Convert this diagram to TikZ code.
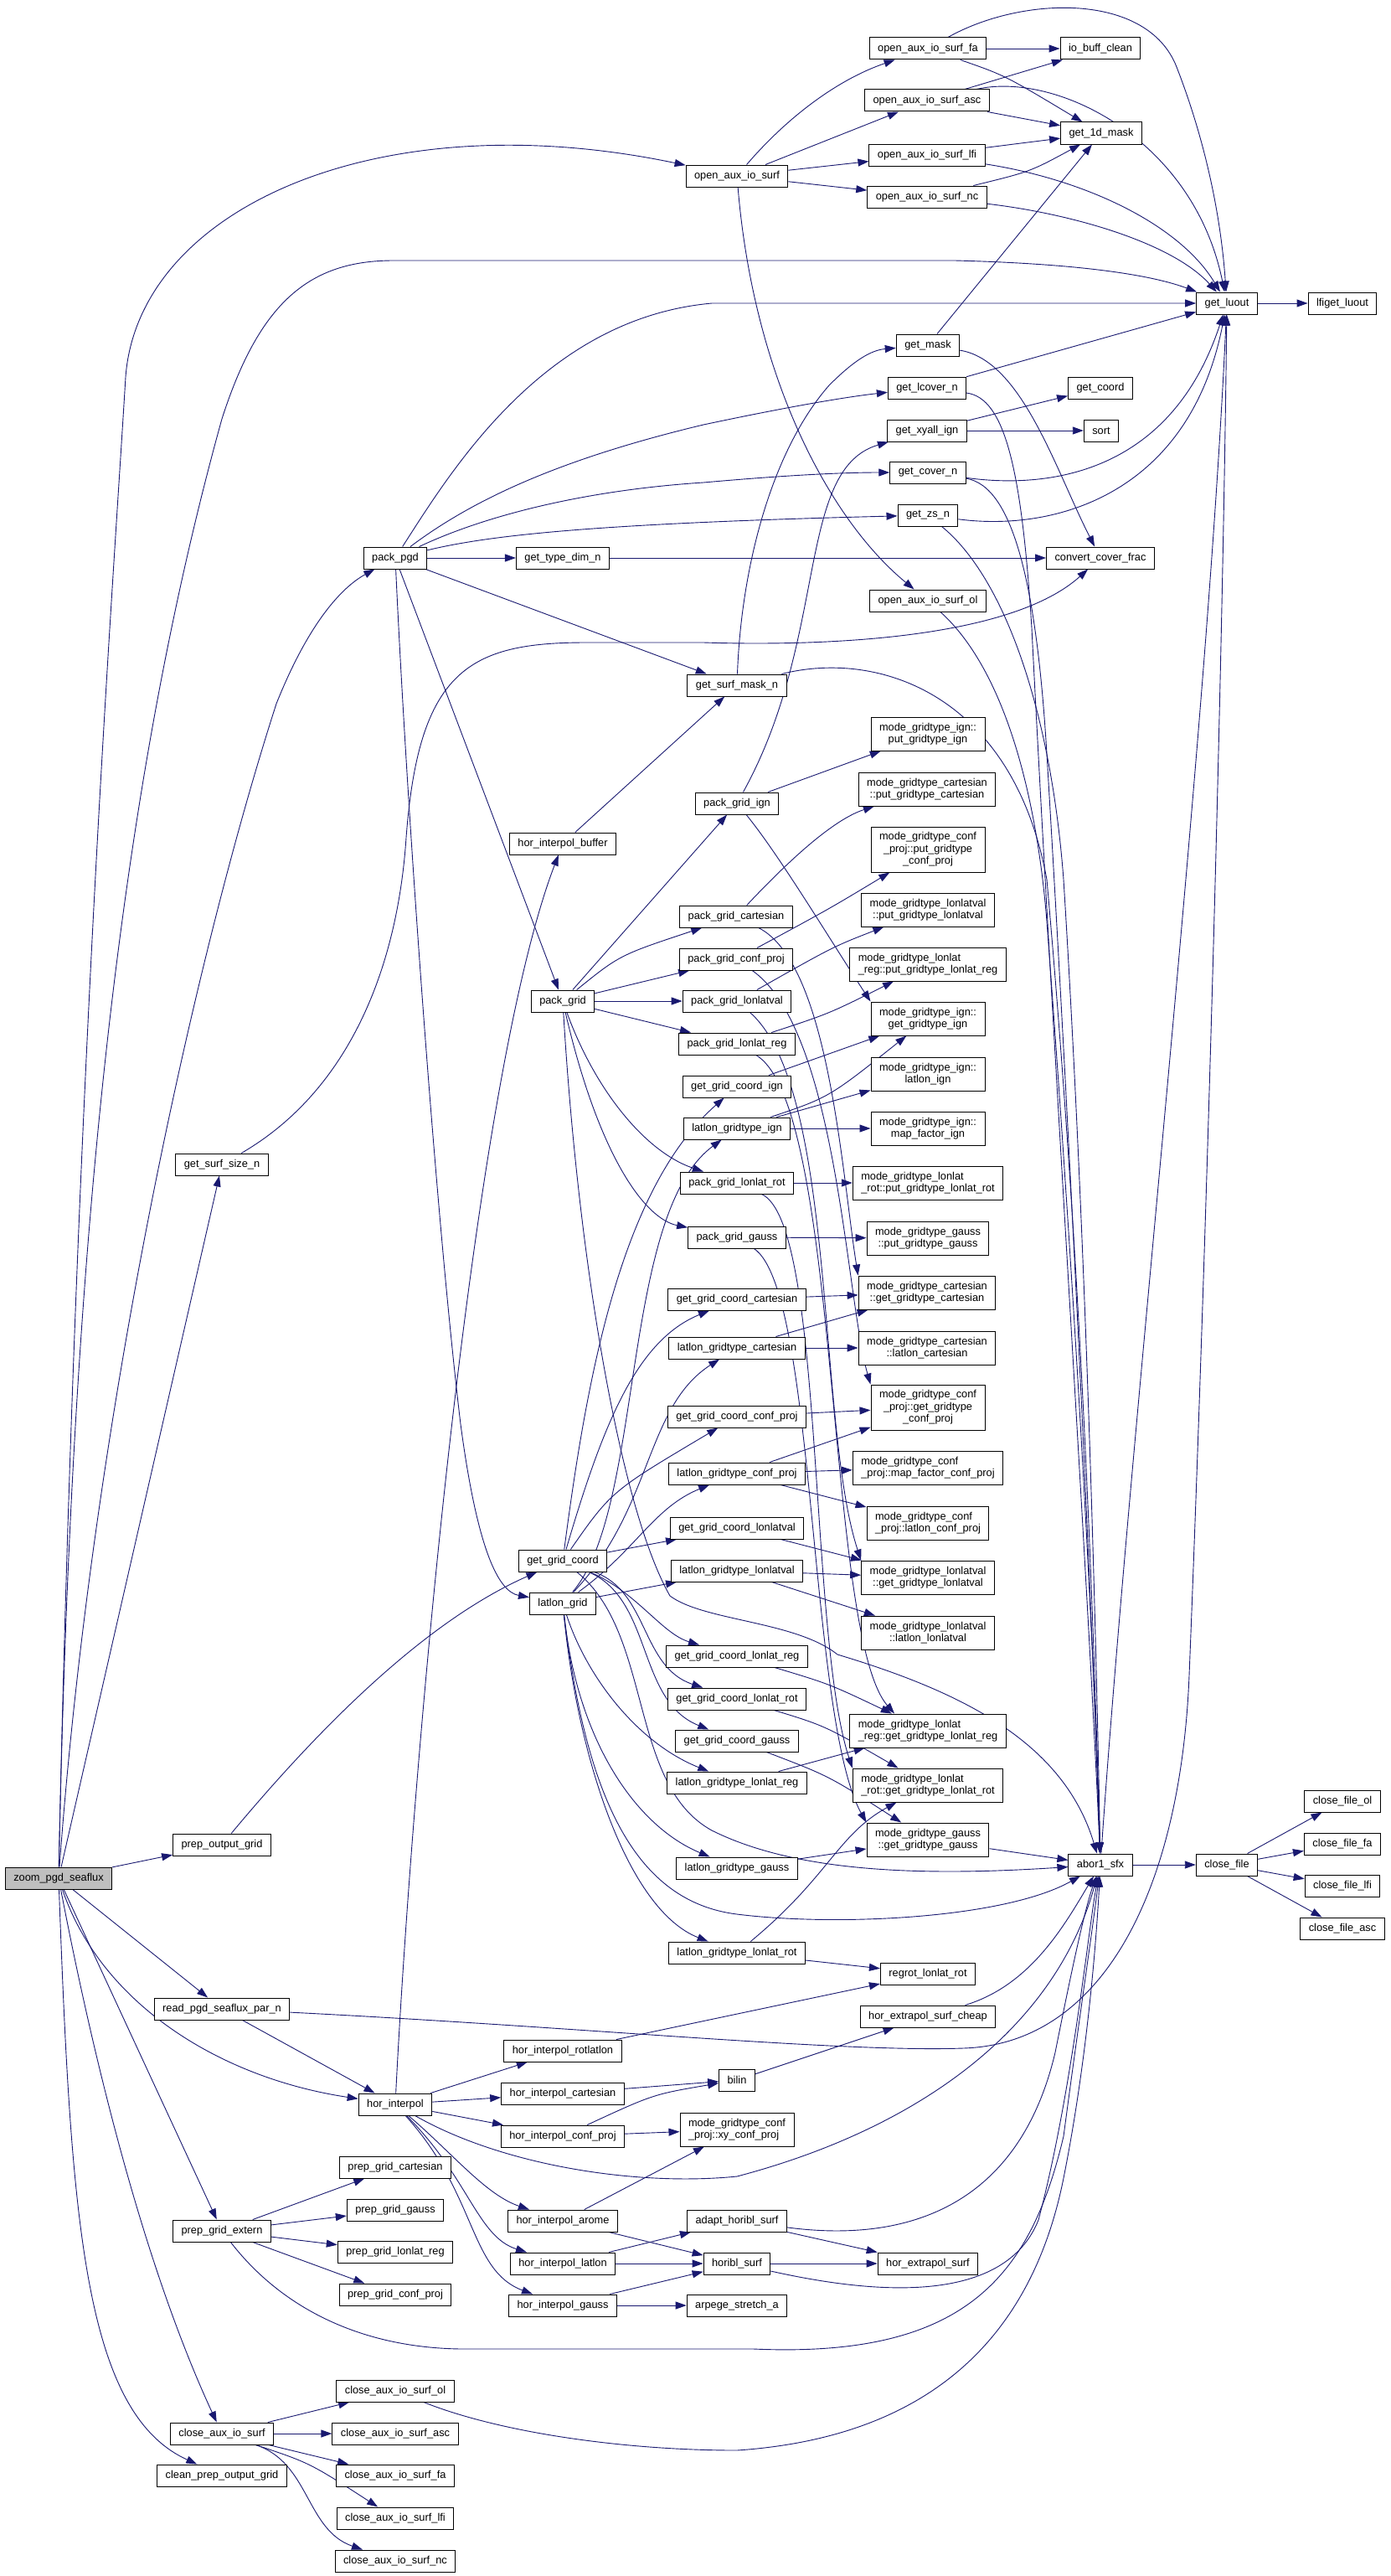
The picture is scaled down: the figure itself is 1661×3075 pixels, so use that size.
\documentclass[tikz,border=0pt]{standalone}
\usepackage{fontspec}
\setmainfont{Liberation Sans}
\usetikzlibrary{arrows.meta}
\definecolor{edgeblue}{HTML}{191970}
\definecolor{rootgray}{HTML}{BFBFBF}
\pgfdeclarelayer{bg}
\pgfsetlayers{bg,main}

\begin{document}
\begin{tikzpicture}[x=1pt,y=-1pt,
  fn/.style={draw=black,fill=white,line width=1pt,minimum height=26pt,inner xsep=10pt,inner ysep=2pt,font=\fontsize{12.8}{14.5}\selectfont},
  fnii/.style={fn,minimum height=40pt,align=center},
  fniil/.style={fn,minimum height=40pt,align=left},
  fniii/.style={fn,minimum height=54pt,align=center},
  root/.style={fn,fill=rootgray},
  call/.style={draw=edgeblue,line width=0.9pt,-{Triangle[length=13pt,width=9pt]}}]

\useasboundingbox (0,0) rectangle (1661,3075);

% root
\node[root] (zoom) at (70,2242) {zoom\_pgd\_seaflux};

% column 2
\node[fn] (gssize) at (265,1390) {get\_surf\_size\_n};
\node[fn] (pog) at (265,2202) {prep\_output\_grid};
\node[fn] (rpgd) at (265,2398) {read\_pgd\_seaflux\_par\_n};
\node[fn] (pge) at (265,2663) {prep\_grid\_extern};
\node[fn] (cais) at (265,2905) {close\_aux\_io\_surf};
\node[fn] (cpog) at (265,2955) {clean\_prep\_output\_grid};

% column 3
\node[fn] (ppgd) at (472,666) {pack\_pgd};
\node[fn] (hi) at (472,2512) {hor\_interpol};
\node[fn] (pgcart2) at (472,2587) {prep\_grid\_cartesian};
\node[fn] (pggauss2) at (472,2638) {prep\_grid\_gauss};
\node[fn] (pgreg2) at (472,2688) {prep\_grid\_lonlat\_reg};
\node[fn] (pgconf2) at (472,2739) {prep\_grid\_conf\_proj};
\node[fn] (caisol) at (472,2854) {close\_aux\_io\_surf\_ol};
\node[fn] (caisasc) at (472,2905) {close\_aux\_io\_surf\_asc};
\node[fn] (caisfa) at (472,2955) {close\_aux\_io\_surf\_fa};
\node[fn] (caislfi) at (472,3006) {close\_aux\_io\_surf\_lfi};
\node[fn] (caisnc) at (472,3057) {close\_aux\_io\_surf\_nc};

% column 4
\node[fn] (gtype) at (672,666) {get\_type\_dim\_n};
\node[fn] (hibuf) at (672,1007) {hor\_interpol\_buffer};
\node[fn] (pgrid) at (672,1195) {pack\_grid};
\node[fn] (ggc) at (672,1863) {get\_grid\_coord};
\node[fn] (llgrid) at (672,1914) {latlon\_grid};
\node[fn] (hirot) at (672,2448) {hor\_interpol\_rotlatlon};
\node[fn] (hicart) at (672,2499) {hor\_interpol\_cartesian};
\node[fn] (hiconf) at (672,2550) {hor\_interpol\_conf\_proj};
\node[fn] (hiarome) at (672,2651) {hor\_interpol\_arome};
\node[fn] (hilatlon) at (672,2702) {hor\_interpol\_latlon};
\node[fn] (higauss) at (672,2752) {hor\_interpol\_gauss};

% column 5
\node[fn] (oais) at (880,210) {open\_aux\_io\_surf};
\node[fn] (gsmask) at (880,818) {get\_surf\_mask\_n};
\node[fn] (pgign) at (880,959) {pack\_grid\_ign};
\node[fn] (pgcart) at (879,1094) {pack\_grid\_cartesian};
\node[fn] (pgconf) at (879,1145) {pack\_grid\_conf\_proj};
\node[fn] (pgllv) at (880,1195) {pack\_grid\_lonlatval};
\node[fn] (pgreg) at (880,1246) {pack\_grid\_lonlat\_reg};
\node[fn] (ggign) at (880,1297) {get\_grid\_coord\_ign};
\node[fn] (llign) at (880,1347) {latlon\_gridtype\_ign};
\node[fn] (pgrot) at (880,1412) {pack\_grid\_lonlat\_rot};
\node[fn] (pggauss) at (880,1477) {pack\_grid\_gauss};
\node[fn] (ggcart) at (880,1551) {get\_grid\_coord\_cartesian};
\node[fn] (llcart) at (880,1609) {latlon\_gridtype\_cartesian};
\node[fn] (ggconf) at (880,1691) {get\_grid\_coord\_conf\_proj};
\node[fn] (llconf) at (880,1759) {latlon\_gridtype\_conf\_proj};
\node[fn] (ggllv) at (880,1824) {get\_grid\_coord\_lonlatval};
\node[fn] (llllv) at (880,1875) {latlon\_gridtype\_lonlatval};
\node[fn] (ggreg) at (880,1977) {get\_grid\_coord\_lonlat\_reg};
\node[fn] (ggrot) at (880,2028) {get\_grid\_coord\_lonlat\_rot};
\node[fn] (gggauss) at (880,2078) {get\_grid\_coord\_gauss};
\node[fn] (llreg) at (880,2128) {latlon\_gridtype\_lonlat\_reg};
\node[fn] (llgauss) at (880,2230) {latlon\_gridtype\_gauss};
\node[fn] (llrot) at (880,2331) {latlon\_gridtype\_lonlat\_rot};
\node[fn] (bilin) at (880,2483) {bilin};
\node[fniil] (mconfxy) at (880,2542) {mode\_gridtype\_conf\\\_proj::xy\_conf\_proj};
\node[fn] (ahs) at (880,2651) {adapt\_horibl\_surf};
\node[fn] (horibl) at (880,2702) {horibl\_surf};
\node[fn] (arpege) at (880,2752) {arpege\_stretch\_a};

% column 6
\node[fn] (oaisfa) at (1108,58) {open\_aux\_io\_surf\_fa};
\node[fn] (oaisasc) at (1107,120) {open\_aux\_io\_surf\_asc};
\node[fn] (oaislfi) at (1107,185) {open\_aux\_io\_surf\_lfi};
\node[fn] (oaisnc) at (1107,235) {open\_aux\_io\_surf\_nc};
\node[fn] (gmask) at (1108,412) {get\_mask};
\node[fn] (glcover) at (1107,463) {get\_lcover\_n};
\node[fn] (gxyall) at (1107,514) {get\_xyall\_ign};
\node[fn] (gcover) at (1108,564) {get\_cover\_n};
\node[fn] (gzs) at (1108,615) {get\_zs\_n};
\node[fn] (oaisol) at (1108,717) {open\_aux\_io\_surf\_ol};
\node[fnii] (mignput) at (1108,876) {mode\_gridtype\_ign::\\put\_gridtype\_ign};
\node[fnii] (mcartput) at (1107,942) {mode\_gridtype\_cartesian\\::put\_gridtype\_cartesian};
\node[fniii] (mconfput) at (1108,1014) {mode\_gridtype\_conf\\\_proj::put\_gridtype\\\_conf\_proj};
\node[fnii] (mllvput) at (1108,1086) {mode\_gridtype\_lonlatval\\::put\_gridtype\_lonlatval};
\node[fniil] (mregput) at (1108,1151) {mode\_gridtype\_lonlat\\\_reg::put\_gridtype\_lonlat\_reg};
\node[fnii] (mignget) at (1108,1216) {mode\_gridtype\_ign::\\get\_gridtype\_ign};
\node[fnii] (mignlatlon) at (1108,1282) {mode\_gridtype\_ign::\\latlon\_ign};
\node[fnii] (mignmap) at (1108,1347) {mode\_gridtype\_ign::\\map\_factor\_ign};
\node[fniil] (mrotput) at (1108,1412) {mode\_gridtype\_lonlat\\\_rot::put\_gridtype\_lonlat\_rot};
\node[fnii] (mgaussput) at (1108,1478) {mode\_gridtype\_gauss\\::put\_gridtype\_gauss};
\node[fnii] (mcartget) at (1107,1543) {mode\_gridtype\_cartesian\\::get\_gridtype\_cartesian};
\node[fnii] (mcartlatlon) at (1107,1609) {mode\_gridtype\_cartesian\\::latlon\_cartesian};
\node[fniii] (mconfget) at (1108,1680) {mode\_gridtype\_conf\\\_proj::get\_gridtype\\\_conf\_proj};
\node[fniil] (mconfmap) at (1108,1752) {mode\_gridtype\_conf\\\_proj::map\_factor\_conf\_proj};
\node[fniil] (mconflatlon) at (1108,1818) {mode\_gridtype\_conf\\\_proj::latlon\_conf\_proj};
\node[fnii] (mllvget) at (1108,1883) {mode\_gridtype\_lonlatval\\::get\_gridtype\_lonlatval};
\node[fnii] (mllvlatlon) at (1108,1949) {mode\_gridtype\_lonlatval\\::latlon\_lonlatval};
\node[fniil] (mregget) at (1108,2066) {mode\_gridtype\_lonlat\\\_reg::get\_gridtype\_lonlat\_reg};
\node[fniil] (mrotget) at (1108,2131) {mode\_gridtype\_lonlat\\\_rot::get\_gridtype\_lonlat\_rot};
\node[fnii] (mgaussget) at (1108,2196) {mode\_gridtype\_gauss\\::get\_gridtype\_gauss};
\node[fn] (regrot) at (1108,2356) {regrot\_lonlat\_rot};
\node[fn] (hesc) at (1108,2407) {hor\_extrapol\_surf\_cheap};
\node[fn] (hes) at (1108,2702) {hor\_extrapol\_surf};

% column 7
\node[fn] (iobc) at (1314,58) {io\_buff\_clean};
\node[fn] (g1dm) at (1315,159) {get\_1d\_mask};
\node[fn] (gcoord) at (1314,463) {get\_coord};
\node[fn] (sort) at (1315,514) {sort};
\node[fn] (ccf) at (1314,666) {convert\_cover\_frac};
\node[fn] (abor) at (1314,2226) {abor1\_sfx};

% column 8 and 9
\node[fn] (luout) at (1465,362) {get\_luout};
\node[fn] (closefile) at (1465,2226) {close\_file};
\node[fn] (lfiluout) at (1603,362) {lfiget\_luout};
\node[fn] (cfol) at (1603,2150) {close\_file\_ol};
\node[fn] (cffa) at (1603,2201) {close\_file\_fa};
\node[fn] (cflfi) at (1603,2251) {close\_file\_lfi};
\node[fn] (cfasc) at (1603,2302) {close\_file\_asc};

\begin{pgfonlayer}{bg}
% calls of zoom_pgd_seaflux
\draw[call] (zoom) .. controls (90,1300) and (135,700) .. (150,450) .. controls (165,250) and (450,120) .. (oais);
\draw[call] (zoom) .. controls (85,1500) and (140,950) .. (265,500) .. controls (310,360) and (370,311) .. (470,311) -- (1140,311) .. controls (1300,315) and (1380,330) .. (luout);
\draw[call] (zoom) .. controls (110,1700) and (230,1150) .. (330,840) .. controls (370,740) and (410,700) .. (ppgd);
\draw[call] (zoom) -- (gssize);
\draw[call] (zoom) -- (pog);
\draw[call] (zoom) -- (rpgd);
\draw[call] (zoom) .. controls (120,2390) and (260,2480) .. (hi);
\draw[call] (zoom) -- (pge);
\draw[call] (zoom) .. controls (110,2450) and (170,2700) .. (cais);
\draw[call] (zoom) .. controls (85,2650) and (100,2880) .. (cpog);

% open_aux_io_surf
\draw[call] (oais) .. controls (940,140) and (1000,95) .. (oaisfa);
\draw[call] (oais) -- (oaisasc);
\draw[call] (oais) -- (oaislfi);
\draw[call] (oais) -- (oaisnc);
\draw[call] (oais) .. controls (900,450) and (990,620) .. (oaisol);
\draw[call] (oaisfa) -- (iobc);
\draw[call] (oaisfa) .. controls (1200,90) .. (g1dm);
\draw[call] (oaisfa) .. controls (1220,-5) and (1370,-10) .. (1405,80) .. controls (1440,170) and (1458,260) .. (luout);
\draw[call] (oaisasc) -- (iobc);
\draw[call] (oaisasc) -- (g1dm);
\draw[call] (oaisasc) .. controls (1260,85) and (1425,165) .. (luout);
\draw[call] (oaislfi) -- (g1dm);
\draw[call] (oaislfi) .. controls (1300,215) and (1410,270) .. (luout);
\draw[call] (oaisnc) .. controls (1230,205) .. (g1dm);
\draw[call] (oaisnc) .. controls (1280,255) and (1400,290) .. (luout);
\draw[call] (luout) -- (lfiluout);

% pack_pgd
\draw[call] (ppgd) .. controls (540,560) and (650,380) .. (850,362) -- (luout);
\draw[call] (ppgd) .. controls (560,600) and (660,550) .. (840,507) .. controls (920,490) and (1000,475) .. (glcover);
\draw[call] (ppgd) .. controls (580,615) and (700,585) .. (840,576) .. controls (930,568) and (1000,564) .. (gcover);
\draw[call] (ppgd) .. controls (580,640) and (700,625) .. (gzs);
\draw[call] (ppgd) -- (gtype);
\draw[call] (gtype) -- (ccf);
\draw[call] (ppgd) -- (gsmask);
\draw[call] (ppgd) -- (pgrid);
\draw[call] (ppgd) .. controls (485,950) and (520,1450) .. (550,1700) .. controls (570,1850) and (595,1900) .. (llgrid);
\draw[call] (gssize) .. controls (420,1300) and (475,1150) .. (485,1000) .. controls (500,800) and (560,767) .. (700,767) -- (840,767) .. controls (1000,772) and (1210,760) .. (ccf);

% masks and covers
\draw[call] (gsmask) .. controls (885,680) and (920,540) .. (990,460) .. controls (1020,430) and (1040,418) .. (gmask);
\draw[call] (gsmask) .. controls (1050,775) and (1210,830) .. (1250,1050) .. controls (1290,1500) and (1305,1900) .. (abor);
\draw[call] (hibuf) -- (gsmask);
\draw[call] (pgign) .. controls (990,760) and (950,560) .. (gxyall);
\draw[call] (gxyall) -- (sort);
\draw[call] (gxyall) -- (gcoord);
\draw[call] (gmask) -- (g1dm);
\draw[call] (gmask) .. controls (1220,430) and (1260,560) .. (ccf);
\draw[call] (glcover) -- (luout);
\draw[call] (glcover) .. controls (1200,475) and (1220,560) .. (1232,750) .. controls (1260,1300) and (1300,1900) .. (abor);
\draw[call] (gcover) .. controls (1260,585) and (1400,560) .. (luout);
\draw[call] (gcover) .. controls (1210,580) and (1238,700) .. (1250,900) .. controls (1280,1400) and (1303,1900) .. (abor);
\draw[call] (gzs) .. controls (1260,635) and (1420,590) .. (luout);
\draw[call] (gzs) .. controls (1200,690) and (1255,850) .. (1270,1050) .. controls (1295,1450) and (1308,1900) .. (abor);
\draw[call] (oaisol) .. controls (1200,800) and (1238,950) .. (1250,1100) .. controls (1280,1500) and (1304,1900) .. (abor);
\draw[call] (abor) .. controls (1350,1700) and (1440,900) .. (luout);
\draw[call] (rpgd) .. controls (700,2420) and (1000,2450) .. (1150,2445) .. controls (1320,2440) and (1410,2250) .. (1420,2000) .. controls (1440,1500) and (1460,800) .. (luout);

% pack_grid
\draw[call] (pgrid) -- (pgign);
\draw[call] (pgrid) .. controls (740,1140) .. (pgcart);
\draw[call] (pgrid) -- (pgconf);
\draw[call] (pgrid) -- (pgllv);
\draw[call] (pgrid) -- (pgreg);
\draw[call] (pgrid) .. controls (710,1300) and (770,1375) .. (pgrot);
\draw[call] (pgrid) .. controls (715,1380) and (770,1455) .. (pggauss);
\draw[call] (pgrid) .. controls (690,1500) and (740,1800) .. (800,1905) .. controls (840,1935) and (950,1935) .. (1000,1975) .. controls (1150,2020) and (1270,2080) .. (abor);
\draw[call] (pgign) -- (mignput);
\draw[call] (pgign) .. controls (930,1020) and (990,1120) .. (mignget.north west);
\draw[call] (pgcart) .. controls (930,1040) and (990,980) .. (mcartput);
\draw[call] (pgcart) .. controls (990,1150) and (1005,1400) .. (mcartget.north west);
\draw[call] (pgconf) .. controls (990,1085) .. (mconfput);
\draw[call] (pgconf) .. controls (1000,1230) and (1010,1550) .. (mconfget.north west);
\draw[call] (pgllv) .. controls (995,1130) .. (mllvput);
\draw[call] (pgllv) .. controls (1000,1300) and (975,1700) .. (mllvget.north west);
\draw[call] (pgreg) .. controls (990,1210) .. (mregput);
\draw[call] (pgreg) .. controls (1005,1320) and (985,1950) .. ([xshift=-40pt]mregget.north);
\draw[call] (pgrot) -- (mrotput);
\draw[call] (pgrot) .. controls (985,1460) and (965,1950) .. (mrotget.north west);
\draw[call] (pggauss) -- (mgaussput);
\draw[call] (pggauss) .. controls (975,1540) and (965,2050) .. (mgaussget.north west);

% get_grid_coord
\draw[call] (pog) .. controls (400,2040) and (520,1930) .. (ggc);
\draw[call] (ggc) .. controls (700,1650) and (740,1420) .. (ggign);
\draw[call] (ggc) .. controls (720,1700) and (760,1600) .. (ggcart);
\draw[call] (ggc) .. controls (730,1780) .. (ggconf);
\draw[call] (ggc) -- (ggllv);
\draw[call] (ggc) .. controls (760,1900) and (790,1950) .. (ggreg);
\draw[call] (ggc) .. controls (775,1900) and (765,1990) .. (ggrot);
\draw[call] (ggc) .. controls (780,1910) and (760,2030) .. (gggauss);
\draw[call] (ggc) .. controls (780,1950) and (750,2130) .. (850,2185) .. controls (950,2235) and (1100,2240) .. (abor);

% latlon_grid
\draw[call] (llgrid) .. controls (770,1800) and (740,1450) .. (llign);
\draw[call] (llgrid) .. controls (780,1800) and (770,1680) .. (llcart);
\draw[call] (llgrid) .. controls (760,1850) and (780,1800) .. (llconf);
\draw[call] (llgrid) -- (llllv);
\draw[call] (llgrid) .. controls (700,2000) and (760,2080) .. (llreg);
\draw[call] (llgrid) .. controls (690,2080) and (760,2180) .. (llgauss);
\draw[call] (llgrid) .. controls (690,2100) and (750,2280) .. (llrot);
\draw[call] (llgrid) .. controls (700,2150) and (760,2270) .. (880,2285) .. controls (1000,2300) and (1200,2290) .. (abor);

% grid types
\draw[call] (ggign) -- (mignget);
\draw[call] (llign) .. controls (990,1310) .. (mignget);
\draw[call] (llign) -- (mignlatlon);
\draw[call] (llign) -- (mignmap);
\draw[call] (ggcart) -- (mcartget);
\draw[call] (llcart) -- (mcartget);
\draw[call] (llcart) -- (mcartlatlon);
\draw[call] (ggconf) -- (mconfget);
\draw[call] (llconf) -- (mconfget);
\draw[call] (llconf) -- (mconfmap);
\draw[call] (llconf) -- (mconflatlon);
\draw[call] (ggllv) -- (mllvget);
\draw[call] (llllv) -- (mllvget);
\draw[call] (llllv) -- (mllvlatlon);
\draw[call] (ggreg) .. controls (990,2010) .. (mregget);
\draw[call] (llreg) -- (mregget);
\draw[call] (ggrot) .. controls (985,2060) .. (mrotget);
\draw[call] (llrot) .. controls (990,2240) and (1000,2190) .. (mrotget);
\draw[call] (llrot) -- (regrot);
\draw[call] (gggauss) .. controls (990,2120) .. (mgaussget);
\draw[call] (llgauss) -- (mgaussget);
\draw[call] (mgaussget) -- (abor);

% hor_interpol
\draw[call] (rpgd) -- (hi);
\draw[call] (hi) .. controls (490,2150) and (560,1300) .. (hibuf);
\draw[call] (hi) -- (hirot);
\draw[call] (hi) -- (hicart);
\draw[call] (hi) -- (hiconf);
\draw[call] (hi) .. controls (540,2570) and (580,2620) .. (hiarome);
\draw[call] (hi) .. controls (560,2600) and (570,2670) .. (hilatlon);
\draw[call] (hi) .. controls (570,2620) and (560,2710) .. (higauss);
\draw[call] (hi) .. controls (600,2585) and (760,2610) .. (880,2598) .. controls (1100,2540) and (1260,2420) .. (abor);
\draw[call] (hirot) -- (regrot);
\draw[call] (hicart) -- (bilin);
\draw[call] (hiconf) .. controls (780,2500) .. (bilin);
\draw[call] (hiconf) -- (mconfxy);
\draw[call] (bilin) -- (hesc);
\draw[call] (hesc) .. controls (1230,2370) and (1270,2300) .. (abor);
\draw[call] (hiarome) -- (mconfxy);
\draw[call] (hiarome) -- (horibl);
\draw[call] (hilatlon) -- (ahs);
\draw[call] (hilatlon) -- (horibl);
\draw[call] (higauss) -- (horibl);
\draw[call] (higauss) -- (arpege);
\draw[call] (ahs) -- (hes);
\draw[call] (horibl) -- (hes);
\draw[call] (ahs) .. controls (1100,2680) and (1220,2620) .. (1260,2450) .. controls (1280,2350) and (1295,2280) .. (abor);
\draw[call] (horibl) .. controls (1050,2740) and (1200,2750) .. (1240,2650) .. controls (1280,2500) and (1300,2300) .. (abor);

% prep_grid_extern, close_aux_io_surf
\draw[call] (pge) -- (pgcart2);
\draw[call] (pge) -- (pggauss2);
\draw[call] (pge) -- (pgreg2);
\draw[call] (pge) -- (pgconf2);
\draw[call] (pge) .. controls (340,2760) and (440,2805) .. (560,2804) -- (900,2804) .. controls (1150,2815) and (1230,2720) .. (1270,2550) .. controls (1290,2400) and (1305,2300) .. (abor);
\draw[call] (cais) -- (caisol);
\draw[call] (cais) -- (caisasc);
\draw[call] (cais) -- (caisfa);
\draw[call] (cais) .. controls (370,2940) .. (caislfi);
\draw[call] (cais) .. controls (370,2940) and (365,3020) .. (caisnc);
\draw[call] (caisol) .. controls (600,2905) and (750,2925) .. (880,2925) .. controls (1100,2910) and (1230,2800) .. (1270,2600) .. controls (1300,2450) and (1310,2300) .. (abor);

% abor1_sfx
\draw[call] (abor) -- (closefile);
\draw[call] (closefile) -- (cfol);
\draw[call] (closefile) -- (cffa);
\draw[call] (closefile) -- (cflfi);
\draw[call] (closefile) -- (cfasc);
\end{pgfonlayer}

\end{tikzpicture}
\end{document}
